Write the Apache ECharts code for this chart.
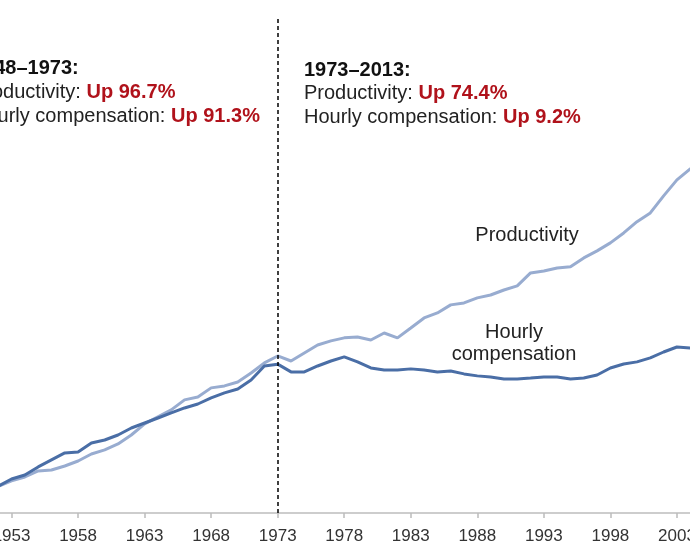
<!DOCTYPE html>
<html>
<head>
<meta charset="utf-8">
<script src="https://cdn.jsdelivr.net/npm/echarts@6/dist/echarts.min.js"></script>
<style>html,body{margin:0;padding:0;background:#fff}#c{width:690px;height:550px}</style>
</head>
<body>
<div id="c"></div>
<script>
// Years (category axis)
const years = [];
for (let y = 1948; y <= 2013; y++) years.push(String(y));

// Cumulative % change since 1948 (values beyond the crop left null)
const productivity = [0, 2, 7, 9, 11, 14.5, 17.1, 21.1, 21.7, 24.3,
  27.6, 32.2, 34.9, 38.8, 44.7, 52.0, 56.6, 61.2, 67.8, 69.7,
  75.7, 77.0, 79.6, 85.5, 92.1, 96.7, 93.4, 98.7, 103.9, 106.6,
  108.6, 109.2, 107.2, 111.8, 108.6, 115.1, 121.7, 125.0, 130.3, 131.6,
  134.9, 136.8, 140.1, 142.8, 151.3, 152.6, 154.6, 155.3, 161.2, 165.8,
  171.1, 177.6, 185.0, 190.8, 202.0, 212.5, 219.7, 224,
  null, null, null, null, null, null, null, null];
const compensation = [0, 4, 7, 9, 11, 15.8, 18.4, 23.7, 28.3, 32.9,
  33.6, 39.5, 41.4, 44.7, 49.3, 52.6, 55.9, 59.2, 62.5, 65.1,
  69.1, 72.4, 75.0, 80.9, 90.1, 91.3, 86.2, 86.2, 90.1, 93.4,
  96.1, 92.8, 88.8, 87.5, 87.5, 88.2, 87.5, 86.2, 86.8, 84.9,
  83.6, 82.9, 81.6, 81.6, 82.2, 82.9, 82.9, 81.6, 82.2, 84.2,
  88.8, 91.4, 92.8, 95.4, 99.3, 102.6, 102.0, 101.5,
  null, null, null, null, null, null, null, null];

const splitYear = '1973';
const FONT = '"Liberation Sans", Arial, sans-serif';
const RED = '#b0121b';

const chart = echarts.init(document.getElementById('c'), null, {renderer: 'canvas'});

function line(x, y, parts) {
  return {
    type: 'text', x: x, y: y, z: 100,
    style: {
      text: parts.map(p => '{' + p[0] + '|' + p[1] + '}').join(''),
      verticalAlign: 'middle',
      rich: {
        b: {font: 'bold 20px ' + FONT, fill: '#111'},
        n: {font: '20px ' + FONT, fill: '#222'},
        r: {font: 'bold 20px ' + FONT, fill: RED}
      }
    }
  };
}

chart.setOption({
  animation: false,
  backgroundColor: '#fff',
  grid: {left: -55, right: -120, top: 18, bottom: 37, containLabel: false, outerBoundsMode: 'none'},
  xAxis: {
    type: 'category',
    data: years,
    boundaryGap: false,
    axisLine: {onZero: false, lineStyle: {color: '#bcbcbc', width: 1.5}},
    axisTick: {interval: 4, length: 5, lineStyle: {color: '#bcbcbc', width: 1.5}},
    axisLabel: {interval: 4, margin: 15, color: '#333', fontSize: 17, fontFamily: FONT},
    splitLine: {show: false}
  },
  yAxis: {
    type: 'value', min: -6.6, max: 319, show: false,
    splitLine: {show: false}
  },
  series: [
    {
      name: 'Productivity', type: 'line', data: productivity,
      symbol: 'none', connectNulls: false,
      lineStyle: {color: '#98acd0', width: 3},
      z: 2
    },
    {
      name: 'Hourly compensation', type: 'line', data: compensation,
      symbol: 'none', connectNulls: false,
      lineStyle: {color: '#4a6ea6', width: 3},
      z: 3,
      markLine: {
        silent: true, symbol: 'none',
        label: {show: false},
        lineStyle: {color: '#000', width: 1.5, type: [4, 3]},
        data: [{xAxis: splitYear}]
      }
    }
  ],
  graphic: [
    line(-28, 68, [['b', '1948–1973:']]),
    line(-28, 92, [['n', 'Productivity: '], ['r', 'Up 96.7%']]),
    line(-28, 116, [['n', 'Hourly compensation: '], ['r', 'Up 91.3%']]),
    line(304, 70, [['b', '1973–2013:']]),
    line(304, 93, [['n', 'Productivity: '], ['r', 'Up 74.4%']]),
    line(304, 117, [['n', 'Hourly compensation: '], ['r', 'Up 9.2%']]),
    {type: 'text', x: 527, y: 235, z: 100, style: {text: 'Productivity', font: '20px ' + FONT, fill: '#222', align: 'center', verticalAlign: 'middle'}},
    {type: 'text', x: 514, y: 332, z: 100, style: {text: 'Hourly', font: '20px ' + FONT, fill: '#222', align: 'center', verticalAlign: 'middle'}},
    {type: 'text', x: 514, y: 354, z: 100, style: {text: 'compensation', font: '20px ' + FONT, fill: '#222', align: 'center', verticalAlign: 'middle'}}
  ]
});
</script>
</body>
</html>
